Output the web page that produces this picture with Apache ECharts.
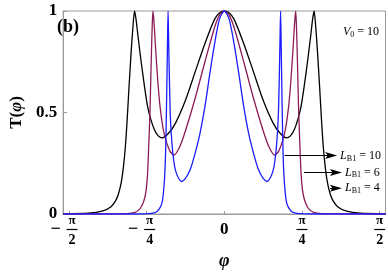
<!DOCTYPE html>
<html><head><meta charset="utf-8">
<script src="https://cdn.jsdelivr.net/npm/echarts@6/dist/echarts.min.js"></script>
<style>html,body{margin:0;padding:0;background:#fff}#c{width:388px;height:275px}</style>
</head><body><div id="c"></div>
<script>
// ---- data (phi in radians, T) ----
const phiL10 = [-1.630,-1.374,-1.237,-1.149,-1.100,-1.070,-1.041,-1.021,-1.001,-0.982,-0.962,-0.942,-0.923,-0.908,-0.893,-0.874,-0.844,-0.805,-0.776,-0.746,-0.707,-0.668,-0.628,-0.560,-0.491,-0.393,-0.295,-0.196,-0.098,-0.049,
  0,
  0.049,0.098,0.196,0.295,0.393,0.491,0.560,0.628,0.668,0.707,0.746,0.776,0.805,0.844,0.874,0.893,0.908,0.923,0.942,0.962,0.982,1.001,1.021,1.041,1.070,1.100,1.149,1.237,1.374,1.630];
const tL10 = [0.001,0.004,0.014,0.035,0.065,0.10,0.16,0.23,0.33,0.47,0.64,0.80,0.93,1.0,0.96,0.88,0.76,0.62,0.53,0.47,0.415,0.385,0.375,0.40,0.45,0.56,0.70,0.84,0.96,0.99,
  1,
  0.99,0.96,0.84,0.70,0.56,0.45,0.40,0.375,0.385,0.415,0.47,0.53,0.62,0.76,0.88,0.96,1.0,0.93,0.80,0.64,0.47,0.33,0.23,0.16,0.10,0.065,0.035,0.014,0.004,0.001];

const phiL6 = [-1.630,-0.982,-0.903,-0.854,-0.825,-0.805,-0.790,-0.776,-0.761,-0.751,-0.741,-0.731,-0.722,-0.712,-0.697,-0.672,-0.648,-0.619,-0.589,-0.550,-0.511,-0.452,-0.393,-0.295,-0.196,-0.098,-0.049,
  0,
  0.049,0.098,0.196,0.295,0.393,0.452,0.511,0.550,0.589,0.619,0.648,0.672,0.697,0.712,0.722,0.731,0.741,0.751,0.761,0.776,0.790,0.805,0.825,0.854,0.903,0.982,1.630];
const tL6 = [0,0.002,0.008,0.025,0.05,0.08,0.12,0.20,0.38,0.52,0.72,0.90,1.0,0.95,0.83,0.65,0.52,0.42,0.36,0.31,0.29,0.33,0.41,0.57,0.75,0.92,0.98,
  1,
  0.98,0.92,0.75,0.57,0.41,0.33,0.29,0.31,0.36,0.42,0.52,0.65,0.83,0.95,1.0,0.90,0.72,0.52,0.38,0.20,0.12,0.08,0.05,0.025,0.008,0.002,0];

const phiL4 = [-1.630,-0.884,-0.736,-0.687,-0.658,-0.633,-0.619,-0.604,-0.594,-0.584,-0.576,-0.569,-0.563,-0.555,-0.545,-0.530,-0.511,-0.491,-0.461,-0.432,-0.393,-0.344,-0.295,-0.245,-0.196,-0.147,-0.098,-0.049,
  0,
  0.049,0.098,0.147,0.196,0.245,0.295,0.344,0.393,0.432,0.461,0.491,0.511,0.530,0.545,0.555,0.563,0.569,0.576,0.584,0.594,0.604,0.619,0.633,0.658,0.687,0.736,0.884,1.630];
const tL4 = [0,0,0.003,0.01,0.025,0.05,0.09,0.18,0.30,0.55,0.80,1.0,0.85,0.65,0.47,0.35,0.26,0.21,0.175,0.16,0.175,0.22,0.30,0.40,0.53,0.69,0.84,0.96,
  1,
  0.96,0.84,0.69,0.53,0.40,0.30,0.22,0.175,0.16,0.175,0.21,0.26,0.35,0.47,0.65,0.85,1.0,0.80,0.55,0.30,0.18,0.09,0.05,0.025,0.01,0.003,0,0];

const seriesNames = ['L10','L6','L4'];
const labelValues = ['10','6','4'];
// arrow annotations: [startPhi, endPhi, T]
const arrowStartPhi = [0.609, 0.805, 1.070];
const arrowEndPhi = [1.080, 1.129, 1.129];
const arrowT = [0.288, 0.205, 0.127];

const xTickValues = [-Math.PI/2, -Math.PI/4, 0, Math.PI/4, Math.PI/2];
const xTickSign = ['−','−','','',''];
const xTickDen = ['2','4','','4','2'];

const serif = "'Liberation Serif','DejaVu Serif',serif";
const zip = (a,b) => a.map((v,i)=>[v,b[i]]);

const chart = echarts.init(document.getElementById('c'), null, {renderer:'canvas'});

const arrowData = arrowStartPhi.map((s,i)=>[
  {coord:[s, arrowT[i]]},
  {coord:[arrowEndPhi[i], arrowT[i]],
   label:{formatter:'{i|L}{s|B1}{t| = '+labelValues[i]+'}'}}
]);

const option = {
  animation:false,
  grid:{left:55,right:1,top:11,bottom:59,show:true,borderColor:'#9a9a9a',borderWidth:1,backgroundColor:'transparent'},
  xAxis:{
    type:'value', min:-1.63, max:1.63,
    axisLine:{show:true,onZero:false,lineStyle:{color:'#9a9a9a',width:1}},
    splitLine:{show:false},
    axisTick:{show:true,inside:true,length:3,customValues:xTickValues,lineStyle:{color:'#9a9a9a'}},
    axisLabel:{
      customValues:xTickValues, margin:2, color:'#000',
      formatter:function(v){
        let i = xTickValues.findIndex(t=>Math.abs(t-v)<1e-6);
        if(i<0) return '';
        if(xTickDen[i]==='') return '{e| }\n{z|0}\n{e3| }';
        if(xTickSign[i]) return '{e2| }{n|π}{r| }\n{m|'+xTickSign[i]+'}{g| }{bar| }{r2| }\n{e2| }{d|'+xTickDen[i]+'}{r| }';
        return '{n|π}\n{bar| }\n{d|'+xTickDen[i]+'}';
      },
      rich:{
        n:{fontFamily:serif,fontWeight:'bold',fontSize:13,width:11,align:'center',lineHeight:10,color:'#000'},
        d:{fontFamily:serif,fontWeight:'bold',fontSize:14,width:11,align:'center',lineHeight:14,color:'#000'},
        bar:{width:11,height:1.2,backgroundColor:'#000',lineHeight:7,align:'center'},
        m:{fontFamily:serif,fontWeight:'bold',fontSize:18,width:14,align:'center',lineHeight:7,color:'#000'},
        e2:{width:18,lineHeight:1,align:'center'},
        g:{width:4,lineHeight:1,align:'center'},
        r:{width:12,lineHeight:1,align:'center'},
        r2:{width:12,lineHeight:1,align:'center'},
        e:{lineHeight:10},
        e3:{lineHeight:14},
        z:{fontFamily:serif,fontWeight:'bold',fontSize:17,lineHeight:7,color:'#000'}
      }
    },
    name:'φ', nameLocation:'middle', nameGap:38,
    nameTextStyle:{fontFamily:serif,fontWeight:'bold',fontStyle:'italic',fontSize:18,color:'#000'}
  },
  yAxis:{
    type:'value', min:0, max:1, interval:0.5,
    axisLine:{show:true,onZero:false,lineStyle:{color:'#9a9a9a',width:1}},
    splitLine:{show:false},
    axisTick:{show:true,inside:true,length:4,lineStyle:{color:'#9a9a9a'}},
    axisLabel:{margin:6,fontFamily:serif,fontWeight:'bold',fontSize:17,color:'#000'},
    name:'{a|T(}{b|φ}{a|)}', nameLocation:'middle', nameGap:36, nameRotate:90,
    nameTextStyle:{rich:{
      a:{fontFamily:serif,fontWeight:'bold',fontSize:17,color:'#000'},
      b:{fontFamily:serif,fontWeight:'bold',fontStyle:'italic',fontSize:17,color:'#000'}
    }}
  },
  graphic:[
    {type:'text',left:57,top:18,style:{text:'(b)',font:"bold 18px 'Liberation Serif', serif",fill:'#000'}},
    {type:'text',left:343,top:26,style:{text:'{i|V}{s|0}{t| = 10}',rich:{
      i:{fontFamily:serif,fontStyle:'italic',fontSize:12,fill:'#000',lineHeight:14},
      s:{fontFamily:serif,fontSize:8,fill:'#000',verticalAlign:'bottom',lineHeight:14},
      t:{fontFamily:serif,fontSize:12,fill:'#000',lineHeight:14}
    }}}
  ],
  series:[
    {name:seriesNames[0],type:'line',data:zip(phiL10,tL10),showSymbol:false,smooth:0.25,clip:true,
     lineStyle:{color:'#000',width:1.3},
     markLine:{silent:true,symbol:['none','none'],
       lineStyle:{color:'#000',width:1,type:'solid'},
       label:{show:true,position:'end',distance:9,color:'#000',
         rich:{
           i:{fontFamily:serif,fontStyle:'italic',fontSize:12,color:'#000',lineHeight:14},
           s:{fontFamily:serif,fontSize:8,color:'#000',verticalAlign:'bottom',lineHeight:14},
           t:{fontFamily:serif,fontSize:12,color:'#000',lineHeight:14}
         }},
       data:arrowData, animation:false}},
    {name:seriesNames[1],type:'line',data:zip(phiL6,tL6),showSymbol:false,smooth:0.25,clip:true,
     lineStyle:{color:'#8c1c55',width:1.3}},
    {name:seriesNames[2],type:'line',data:zip(phiL4,tL4),showSymbol:false,smooth:0.25,clip:true,
     lineStyle:{color:'#1c1cff',width:1.3}},
    {name:'arrowheads',type:'scatter',silent:true,data:zip(arrowEndPhi,arrowT),
     symbol:'path://M0,0 L12,3.5 L0,7 L2.5,3.5 Z',symbolSize:[12,7],
     itemStyle:{color:'#000',opacity:1},z:5}
  ]
};
chart.setOption(option);
</script>
</body></html>
